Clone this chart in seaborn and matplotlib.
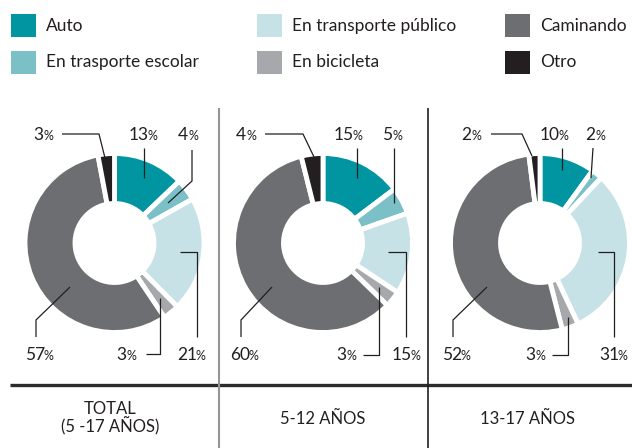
import matplotlib
matplotlib.use("Agg")
import matplotlib.pyplot as plt
import seaborn as sns
from matplotlib.patches import Rectangle

# ---------------- data ----------------
categories = ["Auto", "En trasporte escolar", "En transporte público",
              "En bicicleta", "Caminando", "Otro"]
groups = ["TOTAL\n(5 -17 AÑOS)", "5-12 AÑOS", "13-17 AÑOS"]
total = [13, 4, 21, 3, 57, 3]
age_5_12 = [15, 5, 15, 3, 60, 4]
age_13_17 = [10, 2, 31, 3, 52, 2]
series = [total, age_5_12, age_13_17]

colors = ["#0095a0", "#7cc0c7", "#c6e2e6", "#a7a8ab", "#6d6e71", "#231f20"]

# ---------------- layout (pixels, y from top) ----------------
W, H = 632, 448
FONT = ["Lato", "DejaVu Sans"]
TXT = "#231f20"
centers = [(114.5, 243), (323, 243), (540, 243)]
R_OUT, R_IN = 87, 42

# per slice: (split x between number and %, baseline y), leader polyline
label_layout = [
    [
        ((149, 140), [(144, 148), (144, 178)]),
        ((188, 140), [(192, 150), (192, 181), (168, 203)]),
        ((197, 360), [(180, 252), (197, 252), (197, 337)]),
        ((126, 360), [(146, 354), (160, 354), (160, 298)]),
        ((45, 360), [(36, 337), (36, 320), (70, 287)]),
        ((43, 140), [(62, 134), (99, 134), (105, 158)]),
    ],
    [
        ((354, 140), [(357, 148), (357, 178)]),
        ((392, 140), [(394, 148), (394, 203)]),
        ((412, 360), [(388, 252), (406, 252), (406, 337)]),
        ((346, 360), [(363, 355), (379, 355), (379, 287)]),
        ((250, 360), [(241, 337), (241, 320), (272, 287)]),
        ((246, 140), [(265, 134), (303, 134), (314, 157)]),
    ],
    [
        ((560, 140), [(562, 148), (562, 170)]),
        ((595, 140), [(593, 148), (591, 178)]),
        ((619, 360), [(598, 252), (614, 252), (614, 337)]),
        ((535, 360), [(552, 355), (568, 355), (568, 317)]),
        ((462, 360), [(453, 337), (453, 320), (487, 287)]),
        ((471, 140), [(491, 134), (522, 134), (532, 156)]),
    ],
]
group_label_pos = [(110, 418), (323, 419), (528, 419)]

sns.set_theme(style="white")
plt.rcParams["font.family"] = FONT

fig = plt.figure(figsize=(W / 100, H / 100), dpi=100)
ax = fig.add_axes([0, 0, 1, 1])


def P(x, y):
    return x, H - y


# legend grid
leg_cols = [11, 257, 505]
leg_rows = [25.5, 62]
for i, cat in enumerate(categories):
    cx = leg_cols[i // 2]
    cy = leg_rows[i % 2]
    ax.add_patch(Rectangle(P(cx, cy + 11.5), 25, 23, facecolor=colors[i],
                           edgecolor="none"))
    ax.text(*P(cx + 35, cy), cat, fontsize=12.5, color=TXT,
            ha="left", va="center", family=FONT)

# donuts
lw = 3.5
for vals, (cx, cy), layout in zip(series, centers, label_layout):
    ax.pie(vals, colors=colors, startangle=90, counterclock=False,
           radius=R_OUT + 2.5, center=P(cx, cy), frame=True,
           wedgeprops=dict(width=R_OUT - R_IN + 5, edgecolor="white",
                           linewidth=lw))
    for v, ((sx, by), pts) in zip(vals, layout):
        s = f"{v}"
        ax.text(*P(sx, by), s, fontsize=12.5, color=TXT,
                ha="right", va="baseline", family=FONT)
        # two-digit numbers carry extra right bearing in this font
        pct_x = sx - 1.5 if len(s) == 2 else sx + 0.5
        ax.text(*P(pct_x, by), "%", fontsize=9, color=TXT,
                ha="left", va="baseline", family=FONT)
        xs = [p[0] for p in pts]
        ys = [H - p[1] for p in pts]
        ax.plot(xs, ys, color=TXT, lw=0.9, solid_capstyle="butt")

# separators
ax.plot([10, W], [H - 385, H - 385], color="#2b2b2b", lw=2.4,
        solid_capstyle="butt")
ax.plot([219, 219], [H - 108, 0], color="#959595", lw=1.5,
        solid_capstyle="butt")
ax.plot([427.5, 427.5], [H - 108, 0], color="#231f20", lw=1.2,
        solid_capstyle="butt")

for g, (gx, gy) in zip(groups, group_label_pos):
    ax.text(*P(gx, gy), g, fontsize=12, color=TXT, ha="center",
            va="center", linespacing=0.92, family=FONT)

ax.set_xlim(0, W)
ax.set_ylim(0, H)
ax.set_aspect("equal")
ax.axis("off")

fig.savefig("out.png", dpi=100, facecolor="white")
